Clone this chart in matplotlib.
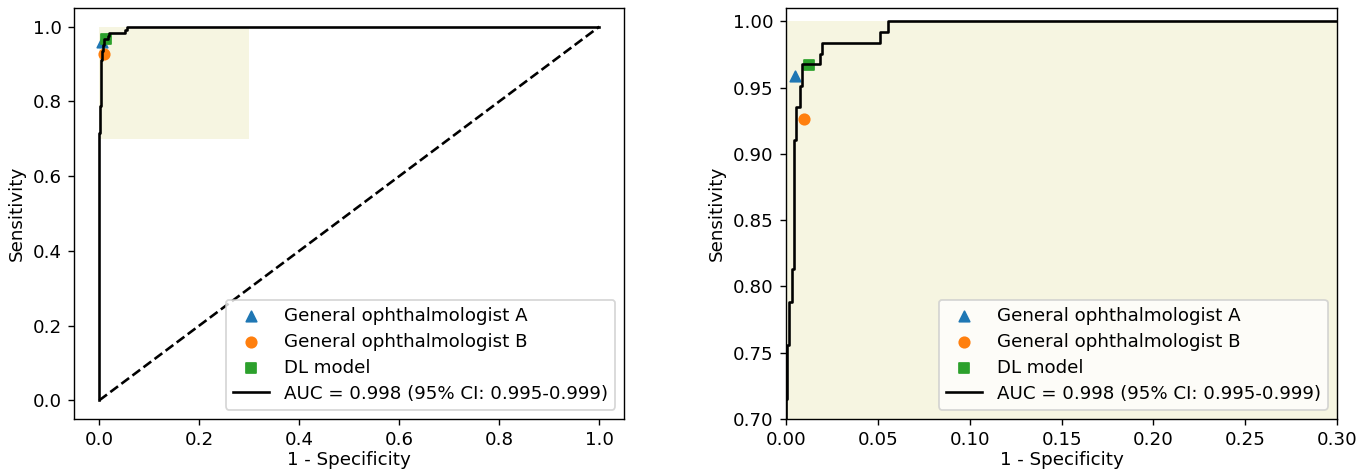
import numpy as np
import matplotlib
matplotlib.use("Agg")
import matplotlib.pyplot as plt

# ROC curve corners (1 - specificity, sensitivity)
fpr = [0.0, 0.0, 0.0007, 0.0007, 0.0016, 0.0016, 0.0031, 0.0031, 0.0044, 0.0044,
       0.0056, 0.0056, 0.0075, 0.0075, 0.0086, 0.0086, 0.0184, 0.0184, 0.0195,
       0.0195, 0.0513, 0.0513, 0.0553, 0.0553, 1.0]
tpr = [0.0, 0.7154, 0.7154, 0.7561, 0.7561, 0.7886, 0.7886, 0.8130, 0.8130,
       0.9106, 0.9106, 0.9350, 0.9350, 0.9512, 0.9512, 0.9675, 0.9675, 0.9756,
       0.9756, 0.9837, 0.9837, 0.9919, 0.9919, 1.0, 1.0]
auc_label = "AUC = 0.998 (95% CI: 0.995-0.999)"

# reader operating points
readers = ["General ophthalmologist A", "General ophthalmologist B", "DL model"]
reader_fpr = [0.005, 0.010, 0.0125]
reader_sens = [0.959, 0.926, 0.967]
reader_markers = ["^", "o", "s"]
reader_colors = ["C0", "C1", "C2"]

# zoom window
zoom_x = (0.0, 0.3)
zoom_y = (0.7, 1.0)
shade = "#f6f5e1"

plt.rcParams["font.size"] = 10.5

fig = plt.figure(figsize=(10.96, 3.752), dpi=125)
ax1 = fig.add_axes([0.0542, 0.1066, 0.4015, 0.8764])
ax2 = fig.add_axes([0.5737, 0.1066, 0.4024, 0.8764])


def draw(ax):
    for name, fx, sy, mk, col in zip(readers, reader_fpr, reader_sens,
                                     reader_markers, reader_colors):
        ax.scatter(fx, sy, marker=mk, color=col, s=36, label=name)
    ax.plot(fpr, tpr, color="black", lw=1.5, label=auc_label)
    ax.set_xlabel("1 - Specificity", labelpad=1)
    ax.set_ylabel("Sensitivity")
    ax.legend(loc="lower right", labelspacing=0.43, handletextpad=0.8)


# left: full curve with the zoom area shaded
ax1.fill_between(zoom_x, zoom_y[0], zoom_y[1], color=shade, lw=0, zorder=0)
ax1.plot([0, 1], [0, 1], "k--")
draw(ax1)
ax1.set_xlim(-0.05, 1.05)
ax1.set_ylim(-0.05, 1.05)
ax1.set_xticks(np.arange(0, 1.01, 0.2))
ax1.set_yticks(np.arange(0, 1.01, 0.2))

# right: zoomed in
ax2.fill_between(zoom_x, zoom_y[0], zoom_y[1], color=shade, lw=0, zorder=0)
draw(ax2)
ax2.set_xlim(0, 0.3)
ax2.set_ylim(0.7, 1.01)
ax2.set_xticks(np.arange(0, 0.301, 0.05))
ax2.set_yticks(np.arange(0.7, 1.001, 0.05))

fig.savefig("out.png", dpi=125)
